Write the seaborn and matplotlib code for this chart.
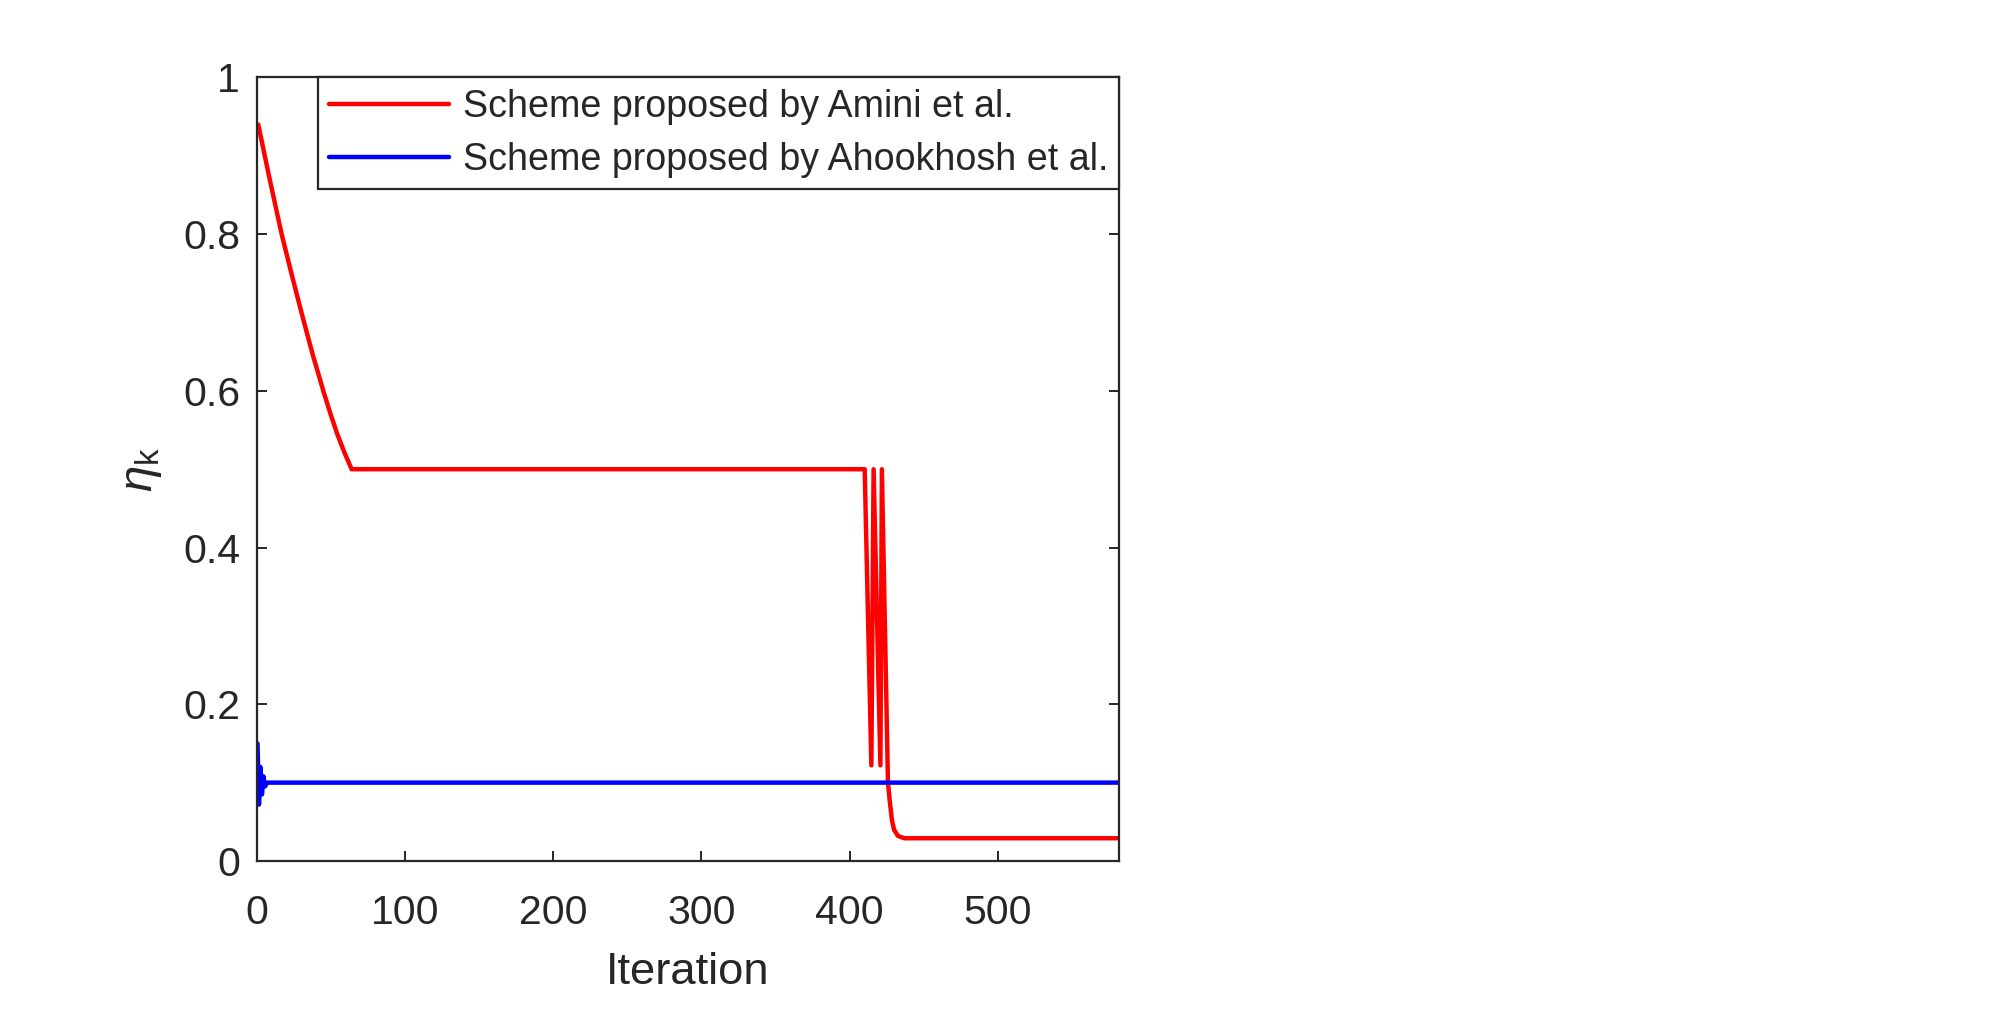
import seaborn as sns
import matplotlib.pyplot as plt
import pandas as pd

# Values (iteration, eta_k)
amini_iter = [1, 8.5, 16.8, 23.5, 30.3, 37.5, 44.9, 49.5, 54.3, 59, 64,
              410.2, 414.7, 416.2, 420.8, 421.8, 425.9, 427.2, 428.6, 430, 432.6, 437, 582]
amini_eta = [0.94, 0.872, 0.80, 0.749, 0.699, 0.648, 0.6, 0.572, 0.545, 0.522, 0.5,
             0.5, 0.122, 0.5, 0.122, 0.5, 0.1, 0.075, 0.052, 0.04, 0.032, 0.029, 0.029]

ahook_iter = [0.5, 1.5, 2.5, 3.5, 4.5, 5.5, 7, 582]
ahook_eta = [0.15, 0.072, 0.12, 0.085, 0.108, 0.095, 0.1, 0.1]

labels = ["Scheme proposed by Amini et al.", "Scheme proposed by Ahookhosh et al."]

data = pd.DataFrame({
    "Iteration": amini_iter + ahook_iter,
    "eta": amini_eta + ahook_eta,
    "Scheme": [labels[0]] * len(amini_iter) + [labels[1]] * len(ahook_iter),
})

sns.set_style("white")
plt.rcParams["font.family"] = ["Liberation Sans", "DejaVu Sans"]
plt.rcParams["mathtext.fontset"] = "custom"
plt.rcParams["mathtext.rm"] = "Liberation Sans"
plt.rcParams["mathtext.it"] = "Liberation Sans:italic"

fig = plt.figure(figsize=(19.92, 10.29), dpi=100)
ax = fig.add_axes([0.1289, 0.1633, 0.4330, 0.7614])

sns.lineplot(data=data, x="Iteration", y="eta", hue="Scheme",
             palette={labels[0]: "#ff0000", labels[1]: "#0000ff"},
             estimator=None, sort=False, linewidth=3.2, ax=ax)

ax.set_xlim(0, 582)
ax.set_ylim(0, 1)
ax.set_xticks([0, 100, 200, 300, 400, 500])
ax.set_yticks([0, 0.2, 0.4, 0.6, 0.8, 1])
ax.set_yticklabels(["0", "0.2", "0.4", "0.6", "0.8", "1"])

dark = "#262626"
for s in ax.spines.values():
    s.set_visible(True)
    s.set_color(dark)
    s.set_linewidth(1.6)
ax.tick_params(direction="in", length=7, width=1.4, colors=dark,
               labelsize=29.5, top=True, right=True, left=True, bottom=True)
ax.tick_params(axis="x", pad=24)
ax.tick_params(axis="y", pad=12)

ax.set_xlabel("Iteration", fontsize=32.7, color=dark, labelpad=14)
ax.set_ylabel(r"$\eta_\mathrm{k}$", fontsize=34, color=dark, labelpad=14)

leg = ax.legend(loc="upper right", borderaxespad=0, fontsize=27.1,
                fancybox=False, framealpha=1, edgecolor=dark,
                handlelength=3.2, handletextpad=0.35, borderpad=0.3,
                labelspacing=0.45)
leg.get_frame().set_linewidth(1.6)
for line in leg.get_lines():
    line.set_linewidth(3.2)

fig.savefig("out.png", dpi=100)
